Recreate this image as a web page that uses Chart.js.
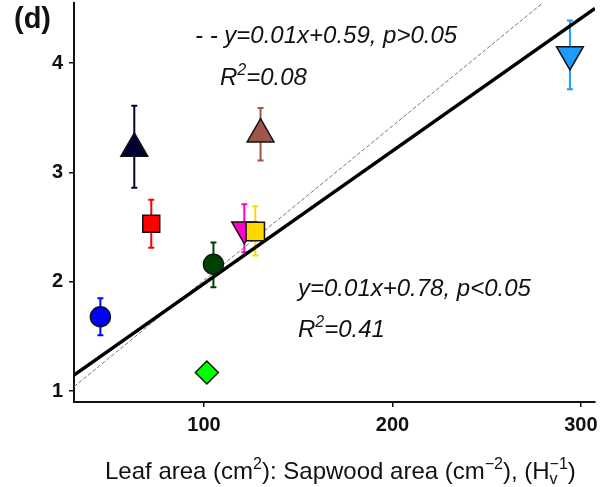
<!DOCTYPE html>
<html>
<head>
<meta charset="utf-8">
<script src="https://cdn.jsdelivr.net/npm/chart.js@4/dist/chart.umd.min.js"></script>
<style>
  html, body { margin: 0; padding: 0; background: #fff; }
  #wrap { width: 605px; height: 487px; }
</style>
</head>
<body>
<div id="wrap"><canvas id="chart" width="605" height="487"></canvas></div>
<script>
// group means (x: leaf area : sapwood area, y: response)
const xVals = [45, 72, 63, 130, 105, 101.5, 121.4, 127.2, 294.2];
const yVals = [1.68, 2.53, 3.22, 3.35, 2.16, 1.17, 2.48, 2.46, 4.08];
const yLow  = [1.51, 2.31, 2.86, 3.11, 1.95, null, 2.27, 2.24, 3.76];
const yHigh = [1.85, 2.75, 3.61, 3.59, 2.36, null, 2.71, 2.69, 4.39];
const fillColors = ['#0000ff', '#ff0000', '#000033', '#a0544a', '#004000', '#00ff00', '#ff00cc', '#ffd700', '#1e9bff'];
const shapes = ['circle', 'rect', 'triangle', 'triangle', 'circle', 'rectRot', 'triangle', 'rect', 'triangle'];
const rotations = [0, 0, 0, 0, 0, 0, 180, 0, 180];
const sizes = [10, 12, 15.5, 15.5, 10, 11.5, 14.5, 13, 15.5];

// fitted lines, end points
const fitAll = [{ x: 31, y: 1.146 }, { x: 307.5, y: 4.50 }];
const fitOther = [{ x: 31, y: 1.04 }, { x: 279, y: 4.54 }];

const xTicks = [100, 200, 300];
const yTicks = [1, 2, 3, 4];

const points = xVals.map((x, i) => ({ x: x, y: yVals[i] }));

// draw text made of pieces, some raised or lowered
function drawRich(ctx, parts, x, y, size, style) {
    let cx = x;
    parts.forEach(p => {
        if (p.t) {
            ctx.font = style + ' ' + size + 'px "Liberation Sans", Arial, sans-serif';
            ctx.fillText(p.t, cx, y);
            cx += ctx.measureText(p.t).width;
        } else {
            const small = Math.round(size * 0.65);
            ctx.font = style + ' ' + small + 'px "Liberation Sans", Arial, sans-serif';
            let w = 0;
            if (p.sup) {
                ctx.fillText(p.sup, cx, y - size * 0.42);
                w = ctx.measureText(p.sup).width;
            }
            if (p.sub) {
                ctx.fillText(p.sub, cx, y + size * 0.22);
                w = Math.max(w, ctx.measureText(p.sub).width);
            }
            cx += w;
        }
    });
}

const errorBars = {
    id: 'errorBars',
    beforeDatasetsDraw(chart) {
        const ctx = chart.ctx;
        const xs = chart.scales.x, ys = chart.scales.y;
        ctx.save();
        ctx.lineWidth = 2;
        xVals.forEach((x, i) => {
            if (yLow[i] == null) return;
            const px = xs.getPixelForValue(x);
            const pLo = ys.getPixelForValue(yLow[i]);
            const pHi = ys.getPixelForValue(yHigh[i]);
            ctx.strokeStyle = fillColors[i];
            ctx.beginPath();
            ctx.moveTo(px, pLo); ctx.lineTo(px, pHi);
            ctx.moveTo(px - 3, pLo); ctx.lineTo(px + 3, pLo);
            ctx.moveTo(px - 3, pHi); ctx.lineTo(px + 3, pHi);
            ctx.stroke();
        });
        ctx.restore();
    }
};

const labels = {
    id: 'labels',
    afterDraw(chart) {
        const ctx = chart.ctx;
        ctx.save();
        ctx.fillStyle = '#111';
        ctx.textBaseline = 'alphabetic';
        ctx.textAlign = 'left';
        ctx.font = 'bold 29px "Liberation Sans", Arial, sans-serif';
        ctx.fillText('(d)', 14, 28);
        drawRich(ctx, [{ t: '- - y=0.01x+0.59, p>0.05' }], 195, 43, 24, 'italic');
        drawRich(ctx, [{ t: 'R' }, { sup: '2' }, { t: '=0.08' }], 220, 85, 24, 'italic');
        drawRich(ctx, [{ t: 'y=0.01x+0.78, p<0.05' }], 298, 296, 24, 'italic');
        drawRich(ctx, [{ t: 'R' }, { sup: '2' }, { t: '=0.41' }], 298, 337, 24, 'italic');
        drawRich(ctx, [
            { t: 'Leaf area (cm' }, { sup: '2' }, { t: '): Sapwood area (cm' }, { sup: '\u22122' },
            { t: '), (H' }, { sup: '\u22121', sub: 'v' }, { t: ')' }
        ], 105, 479, 24, 'normal');
        ctx.restore();
    }
};

new Chart(document.getElementById('chart'), {
    type: 'scatter',
    data: {
        datasets: [
            {
                data: points,
                pointStyle: shapes,
                rotation: rotations,
                pointRadius: sizes,
                pointHoverRadius: sizes,
                backgroundColor: fillColors,
                borderColor: '#111',
                borderWidth: 1.5,
                clip: false,
                order: 0
            },
            {
                type: 'line',
                data: fitAll,
                borderColor: '#000',
                borderWidth: 3.5,
                pointRadius: 0,
                order: 1
            },
            {
                type: 'line',
                data: fitOther,
                borderColor: '#777',
                borderWidth: 1,
                borderDash: [4, 2],
                pointRadius: 0,
                order: 2
            }
        ]
    },
    options: {
        responsive: false,
        animation: false,
        layout: { autoPadding: false, padding: { top: 3, right: 10, left: 0, bottom: 0 } },
        plugins: { legend: { display: false }, tooltip: { enabled: false } },
        scales: {
            x: {
                type: 'linear',
                min: 31,
                max: 307.5,
                afterBuildTicks: s => { s.ticks = xTicks.map(v => ({ value: v })); },
                afterFit: s => { s.height = 85; s.paddingLeft = 0; s.paddingRight = 0; },
                grid: { drawOnChartArea: false, drawTicks: true, tickLength: 5, color: '#111', lineWidth: 1.5 },
                border: { display: true, color: '#111', width: 2 },
                ticks: { color: '#111', padding: 6, font: { family: '"Liberation Sans", Arial, sans-serif', size: 20, weight: 'bold' } }
            },
            y: {
                min: 0.9,
                max: 4.55,
                afterBuildTicks: s => { s.ticks = yTicks.map(v => ({ value: v })); },
                afterFit: s => { s.width = 74; s.paddingTop = 0; s.paddingBottom = 0; },
                grid: { drawOnChartArea: false, drawTicks: true, tickLength: 5, color: '#111', lineWidth: 1.5 },
                border: { display: true, color: '#111', width: 2 },
                ticks: { color: '#111', padding: 6, font: { family: '"Liberation Sans", Arial, sans-serif', size: 20, weight: 'bold' } }
            }
        }
    },
    plugins: [errorBars, labels]
});
</script>
</body>
</html>
